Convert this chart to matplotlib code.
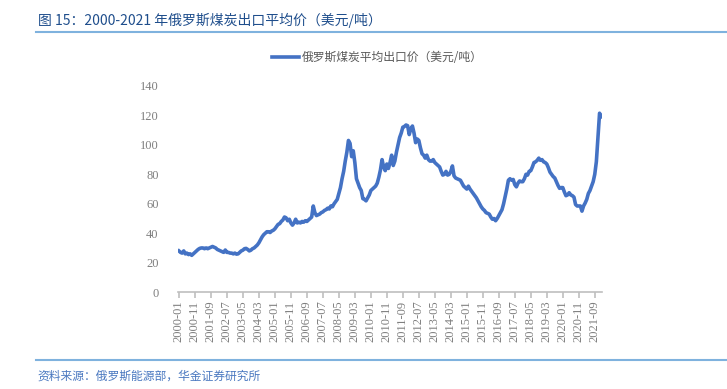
import matplotlib.pyplot as plt
import numpy as np

plt.rcParams['font.family'] = ['Noto Sans CJK SC', 'DejaVu Sans']

# monthly average export price, 2000-01 .. 2022-01 (USD/t)
y2000 = [28, 27, 26.5, 28, 26, 26.5, 25.5, 26, 25, 26, 27, 28]
y2001 = [29, 29.7, 30, 30, 29.5, 30, 29.5, 30, 30.5, 31, 30.5, 30]
y2002 = [29, 28.5, 28, 27.5, 27, 28.6, 27, 27, 26.5, 26.5, 26, 26.5]
y2003 = [25.8, 26, 27, 28, 28.5, 29.5, 29.7, 29, 28, 28.5, 29.5, 30]
y2004 = [31, 32, 33.5, 35.5, 37.5, 39, 40, 41, 41, 40.5, 41.5, 42]
y2005 = [43, 44.5, 46, 46.5, 48, 49, 51, 50.5, 48.5, 49.5, 47, 45.5]
y2006 = [47, 49.5, 47, 47.5, 47, 48, 47.5, 48.5, 48, 49, 50, 51]
y2007 = [58.5, 54, 52, 52.5, 53, 54, 54.5, 55.5, 56, 57, 56.5, 58.5]
y2008 = [58, 60, 61.5, 63, 67, 71, 77, 82, 89, 95, 103, 101]
y2009 = [92, 96, 88, 77, 74, 71, 69, 63.5, 63, 62, 64, 66]
y2010 = [69, 70, 71, 72, 74, 78, 83, 90, 85, 82.5, 87, 84]
y2011 = [88, 93, 86, 89, 95, 100, 105, 108, 112, 112.5, 113.5, 113]
y2012 = [107, 111, 112.8, 108, 101.5, 104, 103, 98, 94, 93, 91, 93]
y2013 = [90, 89, 89, 90, 88, 87, 86, 85, 82, 79.5, 80, 82]
y2014 = [79.5, 80, 82, 85.7, 79, 77.5, 77, 76.5, 76, 74, 72, 71]
y2015 = [70, 72, 70, 68.5, 67, 65.5, 64, 62, 60, 58, 56.5, 55.5]
y2016 = [54, 53.5, 53, 51, 49.5, 50, 48.5, 50, 52, 54, 56, 60]
y2017 = [65, 70, 76, 77, 76, 76.5, 73, 71.5, 74, 75.5, 75, 75]
y2018 = [77, 80, 79.5, 82, 82.5, 85, 88, 88.5, 89.5, 91, 89.5, 90]
y2019 = [88.5, 88, 87, 84.5, 81.5, 80, 78.5, 77.5, 75, 72.5, 70.5, 71]
y2020 = [71, 68, 65.5, 66, 67.5, 66, 65.5, 64.5, 59.5, 58.5, 58.5, 58.5]
y2021 = [55, 58.5, 60.5, 63, 67, 69, 72, 75, 80, 88.6, 105, 121.5]
y2022 = [119]

price = (y2000 + y2001 + y2002 + y2003 + y2004 + y2005 + y2006 + y2007 + y2008
         + y2009 + y2010 + y2011 + y2012 + y2013 + y2014 + y2015 + y2016 + y2017
         + y2018 + y2019 + y2020 + y2021 + y2022)

tick_labels = ['2000-01', '2000-11', '2001-09', '2002-07', '2003-05', '2004-03',
               '2005-01', '2005-11', '2006-09', '2007-07', '2008-05', '2009-03',
               '2010-01', '2010-11', '2011-09', '2012-07', '2013-05', '2014-03',
               '2015-01', '2015-11', '2016-09', '2017-07', '2018-05', '2019-03',
               '2020-01', '2020-11', '2021-09']

series_name = '俄罗斯煤炭平均出口价（美元/吨）'
title = '图 15：2000-2021 年俄罗斯煤炭出口平均价（美元/吨）'
source = '资料来源：俄罗斯能源部，华金证券研究所'

fig = plt.figure(figsize=(7.27, 3.89), dpi=100)
ax = fig.add_axes([0.245, 0.249, 0.583, 0.530])

x = np.arange(len(price))
line, = ax.plot(x, price, color='#4472C4', lw=2.6, solid_joinstyle='round',
                label=series_name)

ax.set_xlim(-0.5, len(price) - 0.5)
ax.set_ylim(0, 140)
ax.set_yticks(range(0, 141, 20))
ax.set_xticks(range(0, 10 * len(tick_labels), 10))
ax.set_xticklabels(tick_labels, rotation=90)

serif = ['Liberation Serif', 'DejaVu Serif']
for lab in ax.get_xticklabels() + ax.get_yticklabels():
    lab.set_family(serif)
    lab.set_fontsize(9)
    lab.set_color('#7f7f7f')

for s in ['top', 'right', 'left']:
    ax.spines[s].set_visible(False)
ax.spines['bottom'].set_color('#bfbfbf')
ax.spines['bottom'].set_linewidth(1.2)
ax.tick_params(axis='y', length=0, pad=14)
ax.tick_params(axis='x', length=4, color='#bfbfbf', width=1.2, pad=2)

ax.legend(handles=[line], loc='center', bbox_to_anchor=(0.519, 0.851),
          bbox_transform=fig.transFigure, frameon=False, fontsize=8.5,
          handlelength=2.3, handletextpad=0.2, labelcolor='#595959')

fig.text(0.052, 0.948, title, fontsize=10, color='#1f4e8c', va='center', ha='left')
fig.add_artist(plt.Line2D([0.05, 1.0], [0.918, 0.918], color='#7fb2de', lw=1.5))
fig.add_artist(plt.Line2D([0.05, 1.0], [0.075, 0.075], color='#7fb2de', lw=1.5))
fig.text(0.052, 0.032, source, fontsize=8.5, color='#4a78c0', style='italic',
         va='center', ha='left')

fig.savefig('out.png', dpi=100)
